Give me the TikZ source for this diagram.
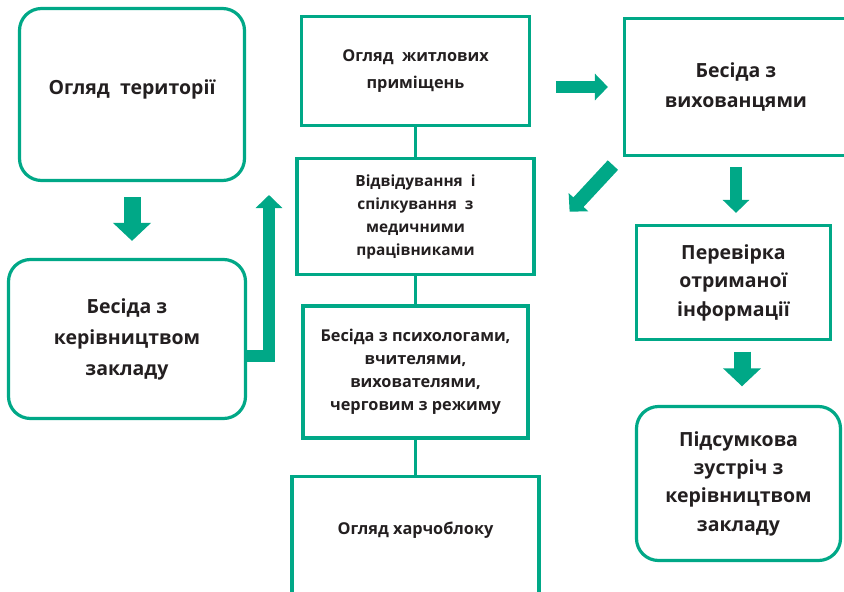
\documentclass[tikz,border=0pt]{standalone}
\usepackage{fontspec}
\setmainfont{Open Sans}
\usetikzlibrary{arrows.meta,positioning}
\definecolor{flowgreen}{HTML}{00A887}
\definecolor{flowtext}{HTML}{231F20}

\begin{document}
\begin{tikzpicture}[x=1pt,y=-1pt,line width=3.2pt,
  box/.style={draw=flowgreen,text=flowtext,align=center,inner sep=0pt},
  round box/.style={box,rounded corners=22pt},
  big text/.style={font=\bfseries\fontsize{19.5}{29.5}\selectfont},
  mid text/.style={font=\bfseries\fontsize{15.4}{23}\selectfont},
  small text/.style={font=\bfseries\fontsize{16.3}{23}\selectfont},
  big arrow/.style={draw=flowgreen,line width=17pt,line join=miter,-{Triangle[width=37pt,length=18pt]}},
  slim arrow/.style={draw=flowgreen,line width=12pt,line join=miter,-{Triangle[width=26pt,length=13pt]}}]
  \clip (0,0) rectangle (844,592);
  % left column
  \node[round box,big text,minimum width=225pt,minimum height=172pt,text height=12pt,text depth=12pt] (terr) at (132,94.5) {Огляд~ території};
  \node[round box,big text,font=\bfseries\fontsize{19.5}{31}\selectfont,minimum width=237pt,minimum height=159pt] (lead) at (127,339) {Бесіда з\\керівництвом\\закладу};
  % middle column
  \node[box,small text,font=\bfseries\fontsize{16.3}{27}\selectfont,minimum width=228pt,minimum height=109pt] (home) at (415.5,71) {Огляд~ житлових\\приміщень};
  \node[box,mid text,minimum width=237pt,minimum height=116pt] (med) [below=30pt of home] {Відвідування~ і\\спілкування~ з\\медичними\\працівниками};
  \node[box,small text,minimum width=225pt,minimum height=132pt] (psy) [below=28pt of med] {Бесіда з психологами,\\вчителями,\hspace*{27pt}\\вихователями,\\черговим з режиму};
  \node[box,small text,minimum width=247pt,text height=58pt,text depth=90pt] (food) [below=35pt of psy] {Огляд харчоблоку};
  % right column
  \node[box,big text,minimum width=223pt,minimum height=137pt] (kids) at (736,87) {Бесіда з\\вихованцями};
  \node[box,big text,font=\bfseries\fontsize{19.5}{28.5}\selectfont,minimum width=194pt,minimum height=114pt] (check) at (733.5,282.5) {Перевірка\\отриманої\\інформації};
  \node[round box,big text,font=\bfseries\fontsize{19.5}{28.3}\selectfont,minimum width=204pt,minimum height=154pt] (final) at (738.5,483.5) {Підсумкова\\зустріч з\\керівництвом\\закладу};

  \coordinate (up) at (269,195);

  \path[draw=flowgreen]
  (home) edge (med)
  (med) edge (psy)
  (psy) edge (food)
  ;
  \draw[big arrow] ([yshift=-15pt]terr.south) -- ([yshift=17pt]terr.south |- lead.north);
  \draw[slim arrow] ([yshift=-17pt]lead.east) -| (up);
  \draw[slim arrow] ([xshift=-67pt]kids.west) -- ([xshift=-15pt]kids.west);
  \draw[slim arrow,line width=14pt] ([xshift=-10pt,yshift=-8pt]kids.south west) -- ([xshift=34pt,yshift=5pt]med.east);
  \draw[slim arrow] ([yshift=-10pt]kids.south) -- ([yshift=11pt]kids.south |- check.north);
  \draw[big arrow] ([xshift=8.5pt,yshift=-10.5pt]check.south) -- ([xshift=3.5pt,yshift=18.6pt]final.north);
\end{tikzpicture}
\end{document}
